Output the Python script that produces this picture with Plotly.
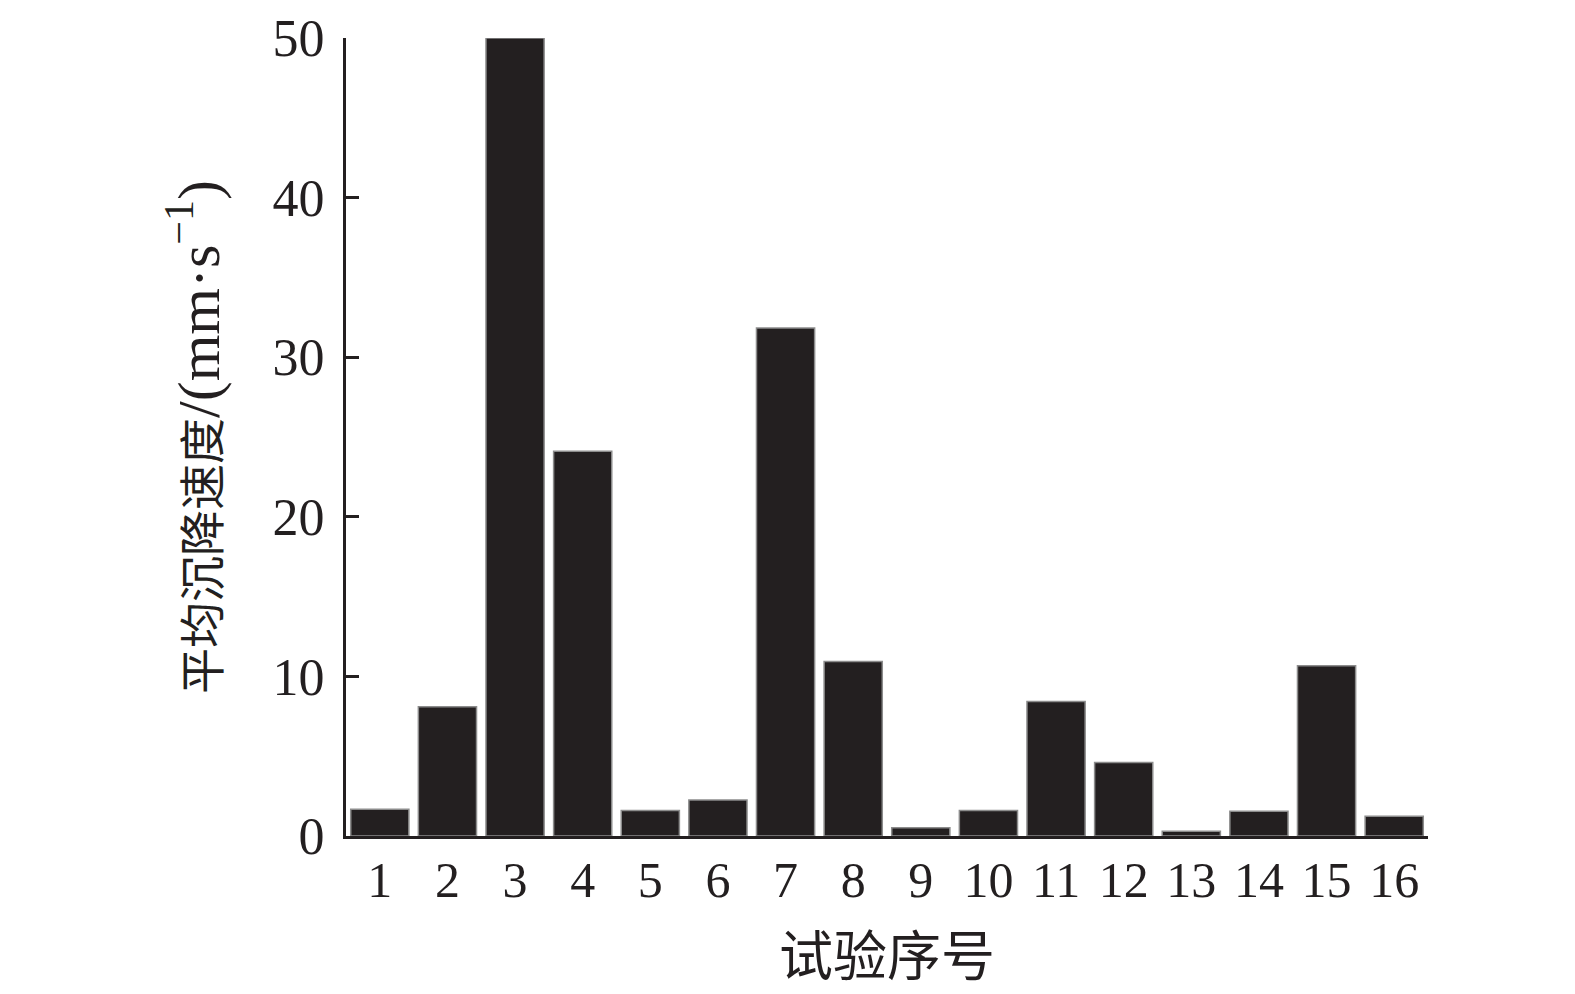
import plotly.graph_objects as go

trials = [str(i) for i in range(1, 17)]
speed = [1.67, 8.1, 50.0, 24.1, 1.59, 2.26, 31.83, 10.93, 0.52, 1.59, 8.42, 4.6, 0.3, 1.55, 10.66, 1.23]
y_ticks = [0, 10, 20, 30, 40, 50]
x_title = "试验序号"
y_title_cn = "平均沉降速度"
y_title_unit = "/(mm·s<sup>−1</sup>)"

ink = "#231f20"
font_family = "Liberation Serif, Times New Roman, Noto Sans CJK SC, serif"

y_title = (
    "<span style=\"font-family:'Noto Sans CJK SC';font-size:46px\">" + y_title_cn + "</span>"
    + "<span style=\"font-family:'Liberation Serif';font-size:60px\">" + y_title_unit + "</span>"
)

fig = go.Figure(
    go.Bar(
        x=list(range(1, 17)),
        y=speed,
        marker=dict(color=ink, line=dict(color="#8c8c8c", width=1.5)),
    )
)

fig.update_layout(
    width=1567,
    height=986,
    margin=dict(l=338, r=147, t=30, b=158),
    paper_bgcolor="white",
    plot_bgcolor="white",
    bargap=0.14,
    showlegend=False,
    font=dict(family=font_family, color=ink, size=50),
)

fig.update_xaxes(
    automargin=False,
    range=[0.5, 16.5],
    tickmode="array",
    tickvals=list(range(1, 17)),
    ticktext=trials,
    ticks="",
    showline=True,
    linecolor=ink,
    linewidth=3,
    showgrid=False,
    zeroline=False,
    tickfont=dict(size=50, family=font_family, color=ink),
    ticklabelstandoff=-2,
    title=dict(text=x_title, font=dict(size=54, family="Noto Sans CJK SC", color=ink), standoff=32),
)

fig.update_yaxes(
    automargin=False,
    range=[0, 50],
    tickmode="array",
    tickvals=y_ticks,
    ticktext=[str(v) for v in y_ticks],
    ticks="inside",
    ticklen=13,
    tickwidth=3,
    tickcolor=ink,
    showline=True,
    linecolor=ink,
    linewidth=3,
    showgrid=False,
    zeroline=False,
    tickfont=dict(size=52, family=font_family, color=ink),
    ticklabelstandoff=8,
    title=dict(text=y_title, font=dict(size=50, family=font_family, color=ink), standoff=38),
)

fig.write_html("out.html")
